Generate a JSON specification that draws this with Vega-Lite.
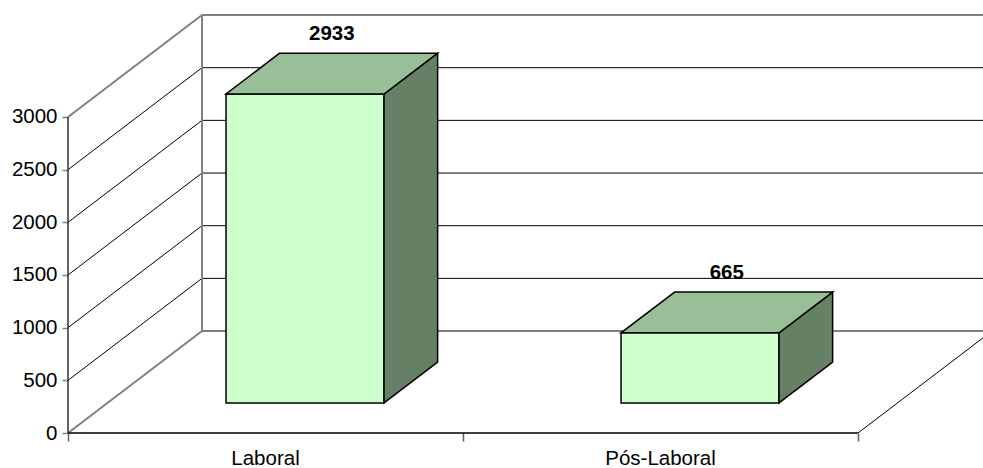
{
  "$schema": "https://vega.github.io/schema/vega-lite/v6.json",
  "width": 915,
  "height": 423,
  "autosize": {"type": "none"},
  "padding": {"left": 68, "top": 10, "right": 0, "bottom": 35},
  "background": "white",
  "config": {"view": {"stroke": null}, "font": "Liberation Sans"},
  "params": [
    {"name": "DX", "value": 0.33924},
    {"name": "DY", "value": 968},
    {"name": "D0", "value": 0.295},
    {"name": "D1", "value": 0.695},
    {"name": "NCAT", "value": 2}
  ],
  "datasets": {
    "bars": [
      {"category": "Laboral", "value": 2933},
      {"category": "Pós-Laboral", "value": 665}
    ],
    "ticks": [
      {"v": 0}, {"v": 500}, {"v": 1000}, {"v": 1500}, {"v": 2000}, {"v": 2500}, {"v": 3000}
    ]
  },
  "layer": [
    {
      "data": {"name": "ticks"},
      "transform": [
        {"calculate": "0", "as": "xf"},
        {"calculate": "DX", "as": "xb"},
        {"calculate": "datum.v + DY", "as": "yb"}
      ],
      "mark": {"type": "rule"},
      "encoding": {
        "x": {
          "field": "xf", "type": "quantitative", "title": null,
          "scale": {"domain": [0, 2.31646], "nice": false, "zero": false},
          "axis": {"values": [0, 1, 2], "domain": false, "grid": false, "labels": false, "ticks": true, "tickSize": 8, "tickColor": "#606060", "tickWidth": 1.5, "title": null}
        },
        "x2": {"field": "xb"},
        "y": {
          "field": "v", "type": "quantitative", "title": null,
          "scale": {"domain": [0, 4015.8], "nice": false, "zero": false},
          "axis": {"values": [0, 500, 1000, 1500, 2000, 2500, 3000], "format": "d", "domain": false, "grid": false, "ticks": true, "tickSize": 6, "tickColor": "#808080", "tickWidth": 1.5, "labelFontSize": 20.5, "labelFont": "Liberation Sans", "labelColor": "black", "labelPadding": 5, "title": null}
        },
        "y2": {"field": "yb"},
        "color": {"condition": {"test": "datum.v == 0 || datum.v == 3000", "value": "#808080"}, "value": "black"},
        "strokeWidth": {"condition": {"test": "datum.v == 0 || datum.v == 3000", "value": 2}, "value": 1}
      }
    },
    {
      "data": {"name": "ticks"},
      "transform": [
        {"calculate": "DX", "as": "xa"},
        {"calculate": "NCAT + DX", "as": "xe"},
        {"calculate": "datum.v + DY", "as": "yb"}
      ],
      "mark": {"type": "rule", "clip": true},
      "encoding": {
        "x": {"field": "xa", "type": "quantitative", "title": null},
        "x2": {"field": "xe"},
        "y": {"field": "yb", "type": "quantitative", "title": null},
        "color": {"condition": {"test": "datum.v == 0 || datum.v == 3000", "value": "#808080"}, "value": "black"},
        "strokeWidth": {"condition": {"test": "datum.v == 0 || datum.v == 3000", "value": 2}, "value": 1}
      }
    },
    {
      "data": {"name": "ticks"},
      "transform": [
        {"aggregate": [{"op": "min", "field": "v", "as": "lo"}, {"op": "max", "field": "v", "as": "hi"}]},
        {"calculate": "DX", "as": "xa"},
        {"calculate": "datum.lo + DY", "as": "ya"},
        {"calculate": "datum.hi + DY", "as": "yz"}
      ],
      "mark": {"type": "rule", "color": "#808080", "strokeWidth": 2},
      "encoding": {
        "x": {"field": "xa", "type": "quantitative", "title": null},
        "y": {"field": "ya", "type": "quantitative", "title": null},
        "y2": {"field": "yz"}
      }
    },
    {
      "data": {"name": "ticks"},
      "transform": [
        {"filter": "datum.v == 0"},
        {"calculate": "NCAT", "as": "xa"},
        {"calculate": "NCAT + DX", "as": "xe"},
        {"calculate": "datum.v + DY", "as": "yb"}
      ],
      "mark": {"type": "rule", "color": "black", "strokeWidth": 1, "clip": true},
      "encoding": {
        "x": {"field": "xa", "type": "quantitative", "title": null},
        "x2": {"field": "xe"},
        "y": {"field": "v", "type": "quantitative", "title": null},
        "y2": {"field": "yb"}
      }
    },
    {
      "data": {"name": "ticks"},
      "transform": [
        {"filter": "datum.v == 0"},
        {"calculate": "0", "as": "xa"},
        {"calculate": "NCAT", "as": "xe"}
      ],
      "mark": {"type": "rule", "color": "black", "strokeWidth": 1.5},
      "encoding": {
        "x": {"field": "xa", "type": "quantitative", "title": null},
        "x2": {"field": "xe"},
        "y": {"field": "v", "type": "quantitative", "title": null}
      }
    },
    {
      "data": {"name": "ticks"},
      "transform": [
        {"aggregate": [{"op": "min", "field": "v", "as": "lo"}, {"op": "max", "field": "v", "as": "hi"}]},
        {"calculate": "0", "as": "xa"}
      ],
      "mark": {"type": "rule", "color": "#303030", "strokeWidth": 1.5},
      "encoding": {
        "x": {"field": "xa", "type": "quantitative", "title": null},
        "y": {"field": "lo", "type": "quantitative", "title": null},
        "y2": {"field": "hi"}
      }
    },
    {
      "data": {"name": "bars"},
      "transform": [
        {"window": [{"op": "row_number", "as": "rn"}]},
        {"calculate": "datum.rn - 1 + 0.3 + D0 * DX", "as": "xl"},
        {"calculate": "datum.rn - 1 + 0.7 + D0 * DX", "as": "xr"},
        {"calculate": "D0 * DY", "as": "yb"},
        {"calculate": "datum.value + D0 * DY", "as": "yt"}
      ],
      "mark": {"type": "rect", "fill": "#CCFFCC", "stroke": "black", "strokeWidth": 1.5},
      "encoding": {
        "x": {"field": "xl", "type": "quantitative", "title": null},
        "x2": {"field": "xr"},
        "y": {"field": "yb", "type": "quantitative", "title": null},
        "y2": {"field": "yt"}
      }
    },
    {
      "data": {"name": "bars"},
      "transform": [
        {"window": [{"op": "row_number", "as": "rn"}]},
        {"calculate": "[D0, D1]", "as": "ds"},
        {"flatten": ["ds"], "as": ["d"]},
        {"calculate": "datum.rn - 1 + 0.7 + datum.d * DX", "as": "xs"},
        {"calculate": "datum.d * DY", "as": "yb"},
        {"calculate": "datum.value + datum.d * DY", "as": "yt"}
      ],
      "mark": {"type": "area", "orient": "vertical", "fill": "#668066", "stroke": "black", "strokeWidth": 1.5, "opacity": 1, "fillOpacity": 1},
      "encoding": {
        "x": {"field": "xs", "type": "quantitative", "title": null},
        "y": {"field": "yb", "type": "quantitative", "title": null},
        "y2": {"field": "yt"},
        "detail": {"field": "category", "type": "nominal"}
      }
    },
    {
      "data": {"name": "bars"},
      "transform": [
        {"window": [{"op": "row_number", "as": "rn"}]},
        {"calculate": "[D0, D1]", "as": "ds"},
        {"flatten": ["ds"], "as": ["d"]},
        {"calculate": "datum.rn - 1 + 0.3 + datum.d * DX", "as": "xa"},
        {"calculate": "datum.rn - 1 + 0.7 + datum.d * DX", "as": "xe"},
        {"calculate": "datum.value + datum.d * DY", "as": "yt"}
      ],
      "mark": {"type": "area", "orient": "horizontal", "fill": "#99BF99", "stroke": "black", "strokeWidth": 1.5, "opacity": 1, "fillOpacity": 1},
      "encoding": {
        "y": {"field": "yt", "type": "quantitative", "title": null},
        "x": {"field": "xa", "type": "quantitative", "title": null},
        "x2": {"field": "xe"},
        "detail": {"field": "category", "type": "nominal"}
      }
    },
    {
      "data": {"name": "bars"},
      "transform": [
        {"window": [{"op": "row_number", "as": "rn"}]},
        {"calculate": "datum.rn - 1 + 0.5 + (D0 + D1) / 2 * DX", "as": "xc"},
        {"calculate": "datum.value + D1 * DY", "as": "yt"}
      ],
      "mark": {"type": "text", "font": "Liberation Sans", "fontSize": 20.5, "fontWeight": "bold", "color": "black", "align": "center", "baseline": "alphabetic", "dy": -13},
      "encoding": {
        "x": {"field": "xc", "type": "quantitative", "title": null},
        "y": {"field": "yt", "type": "quantitative", "title": null},
        "text": {"field": "value", "type": "quantitative", "format": "d"}
      }
    },
    {
      "data": {"name": "bars"},
      "transform": [
        {"window": [{"op": "row_number", "as": "rn"}]},
        {"calculate": "datum.rn - 1 + 0.5", "as": "xc"},
        {"calculate": "0", "as": "y0"}
      ],
      "mark": {"type": "text", "font": "Liberation Sans", "fontSize": 20.5, "color": "black", "align": "center", "baseline": "alphabetic", "dy": 32},
      "encoding": {
        "x": {"field": "xc", "type": "quantitative", "title": null},
        "y": {"field": "y0", "type": "quantitative", "title": null},
        "text": {"field": "category", "type": "nominal"}
      }
    }
  ]
}
